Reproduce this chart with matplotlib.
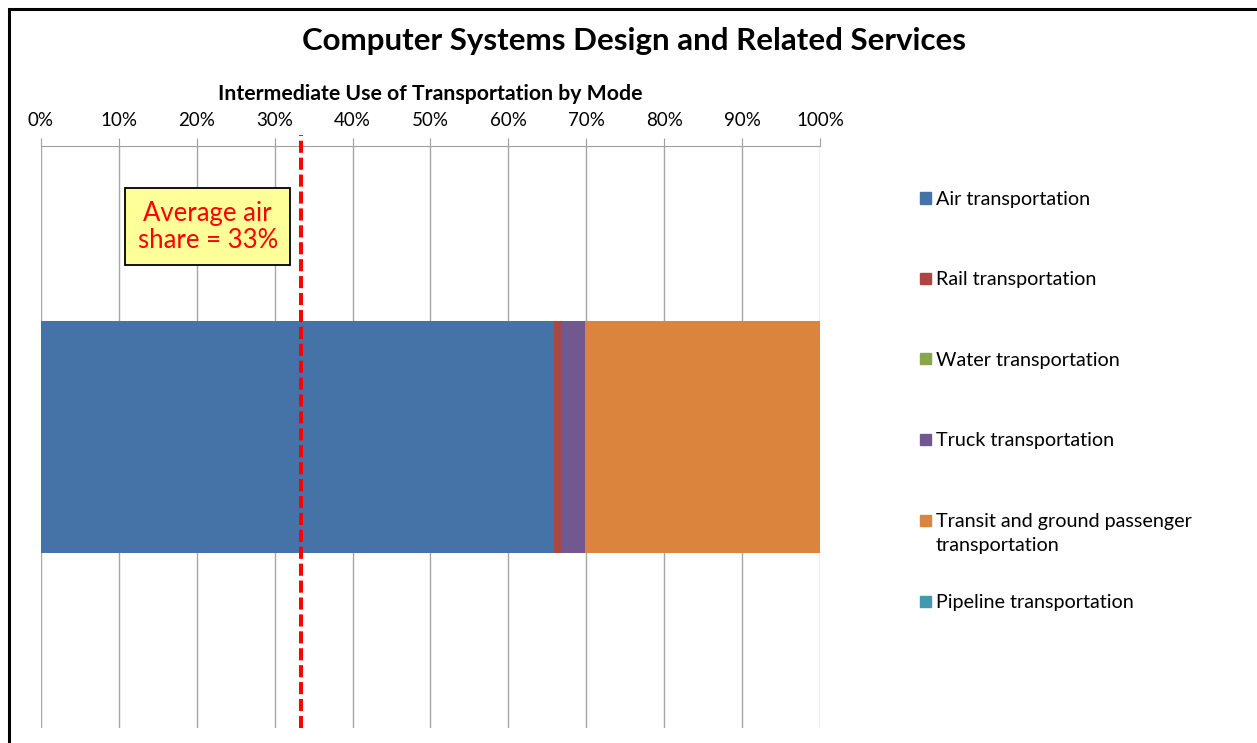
import matplotlib.pyplot as plt
from matplotlib.patches import Rectangle
from matplotlib.ticker import PercentFormatter

plt.rcParams['font.family'] = ['Lato', 'DejaVu Sans']

# Udział poszczególnych rodzajów transportu (%)
modes = ['Air transportation', 'Rail transportation', 'Water transportation',
         'Truck transportation', 'Transit and ground passenger\ntransportation',
         'Pipeline transportation']
shares = [65.8, 0.9, 0.0, 3.1, 30.2, 0.0]
colors = ['#4572A7', '#AA4643', '#89A54E', '#71588F', '#DB843D', '#4198AF']
avg_air = 33.4
ticks = list(range(0, 101, 10))

fig = plt.figure(figsize=(12.57, 7.43), dpi=100)
ax = fig.add_axes([0.0326, 0.0202, 0.6197, 0.7833])

# Słupek skumulowany
left = 0
for share, color in zip(shares, colors):
    ax.barh(0, share, left=left, height=0.4, color=color, zorder=2)
    left += share

ax.set_xlim(0, 100)
ax.set_ylim(-0.5, 0.5)
ax.set_yticks([])
ax.set_xticks(ticks)
ax.xaxis.set_major_formatter(PercentFormatter(decimals=0))
ax.xaxis.tick_top()
ax.tick_params(axis='x', length=6, color='#A0A0A0', labelsize=13.5, pad=6)
ax.grid(axis='x', color='#A6A6A6', linewidth=1, zorder=0)
for side in ['left', 'right', 'bottom']:
    ax.spines[side].set_visible(False)
ax.spines['top'].set_color('#A0A0A0')

# Średni udział transportu lotniczego
ax.axvline(avg_air, ymin=0, ymax=1.019, color='red', linewidth=2.9,
           linestyle=(0, (3, 1.2)), clip_on=False, zorder=3)
ax.text(21.4, 0.861, f'Average air\nshare = {avg_air:.0f}%', transform=ax.get_xaxis_transform(),
        ha='center', va='center', color='red', fontsize=18.5, linespacing=1.12,
        bbox=dict(boxstyle='square,pad=0.48', facecolor='#FFFF99', edgecolor='black', linewidth=1.3))

# Tytuły
fig.text(0.504, 0.945, 'Computer Systems Design and Related Services',
         ha='center', va='center', fontsize=22.5, fontweight='bold')
fig.text(0.3425, 0.874, 'Intermediate Use of Transportation by Mode',
         ha='center', va='center', fontsize=15.3, fontweight='bold')

# Legenda
leg_y = [198, 278, 359, 439, 520, 601]
for label, color, y in zip(modes, colors, leg_y):
    yf = 1 - y / 743
    fig.patches.append(Rectangle((920 / 1257, yf - 5.5 / 743), 11 / 1257, 11 / 743,
                                 transform=fig.transFigure, color=color))
    fig.text(936 / 1257, yf + 7 / 743, label, ha='left', va='top',
             fontsize=14.2, linespacing=1.5)

# Ramka
fig.patches.append(Rectangle((8.5 / 1257, -0.5), 2, 0.5 + 1 - 8.5 / 743,
                             transform=fig.transFigure, fill=False,
                             edgecolor='black', linewidth=2.2))

fig.savefig('out.png', dpi=100)
